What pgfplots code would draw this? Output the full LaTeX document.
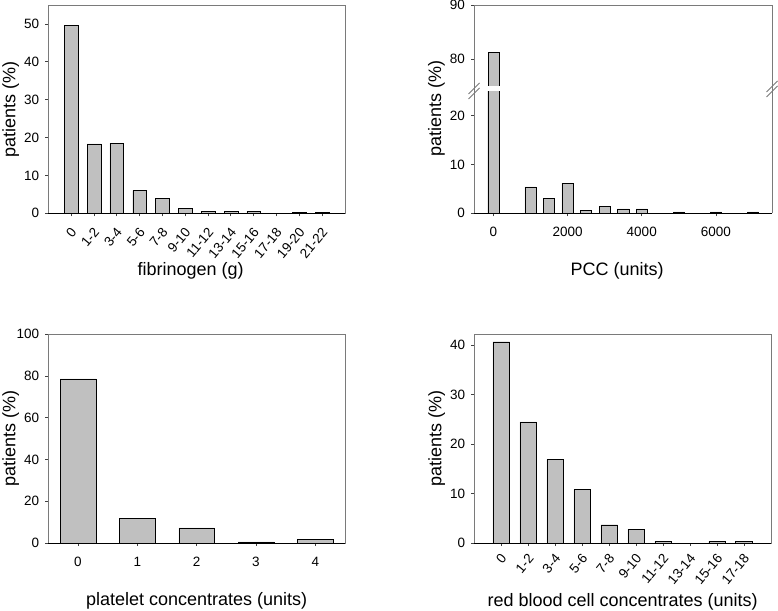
\documentclass[border=0pt]{standalone}
\usepackage{fontspec}
\setmainfont{Liberation Sans}
\usepackage{pgfplots}
\pgfplotsset{compat=1.18}
\definecolor{barfill}{HTML}{C0C0C0}
\definecolor{baredge}{HTML}{555555}
\definecolor{spine}{HTML}{7A7A7A}
\pgfplotsset{
  base/.style={
    scale only axis, anchor=south west,
    axis line style={draw=none},
    clip mode=individual,
    tick align=outside, major tick length=3pt,
    tick style={black!75, line width=0.8pt},
    xtick pos=left, ytick pos=left,
    ybar, bar width=0.6,
    ticklabel style={font=\fontsize{13.5}{15}\selectfont},
    label style={font=\fontsize{18}{20}\selectfont},
    /pgf/number format/assume math mode=true,
    /pgf/number format/1000 sep={},
    yticklabel style={anchor=east, inner sep=0pt, xshift=-6pt},
    xlabel style={anchor=base},
    ylabel style={anchor=center},
    cycle list={{fill=barfill, draw=baredge, line width=0.8pt}},
  },
  plainx/.style={xticklabel style={anchor=north, inner sep=0pt, yshift=-10.7pt}},
}
\begin{document}
\begin{tikzpicture}
\path[use as bounding box] (0,0) rectangle (778pt,610pt);
% fibrinogen
\begin{axis}[base, at={(48.3pt,396.7pt)}, width=296.7pt, height=208.3pt,
  xmin=-1, xmax=12, ymin=0, ymax=55, ytick={0,10,...,50},
  xtick={0,...,11},
  xticklabels={0,1-2,3-4,5-6,7-8,9-10,11-12,13-14,15-16,17-18,19-20,21-22},
  xticklabel style={xshift=2.6pt, yshift=-13.5pt, rotate=50, anchor=east, inner sep=0pt},
  xlabel={fibrinogen (g)}, ylabel={patients (\%)},
  xlabel style={at={(axis description cs:0.4798,-0.300)}},
  ylabel style={at={(axis description cs:-0.1264,0.5)}}]
\addplot coordinates {(0,49.7) (1,18.3) (2,18.5) (3,6.0) (4,4.0) (5,1.3) (6,0.5) (7,0.5) (8,0.5) (9,0) (10,0.3) (11,0.3)};
\draw[spine, line width=0.8pt] (rel axis cs:0,0) rectangle (rel axis cs:1,1);
\draw[black, line width=0.8pt] (rel axis cs:0,0) -- (rel axis cs:1,0);
\end{axis}
% PCC lower
\begin{axis}[base, plainx, at={(474pt,396.7pt)}, width=298pt, height=122pt,
  xmin=-520, xmax=7510, ymin=0, ymax=25, ytick={0,10,20},
  xtick={0,2000,4000,6000}, bar width=300,
  xlabel={PCC (units)}, ylabel={patients (\%)},
  xlabel style={at={(axis description cs:0.48,-0.5123)}},
  ylabel style={at={(axis description cs:-0.1258,0.859)}}]
\addplot coordinates {(0,81.2) (1000,5.4) (1500,3.0) (2000,6.2) (2500,0.6) (3000,1.4) (3500,0.9) (4000,0.9) (5000,0.3) (6000,0.3) (7000,0.3)};
\draw[spine, line width=0.8pt] (rel axis cs:0,1) -- (rel axis cs:0,0);
\draw[spine, line width=0.8pt] (rel axis cs:1,0) -- (rel axis cs:1,1);
\draw[black, line width=0.8pt] (rel axis cs:0,0) -- (rel axis cs:1,0);
\end{axis}
% PCC upper (broken axis)
\begin{axis}[base, at={(474pt,524pt)}, width=298pt, height=81pt,
  xmin=-520, xmax=7510, ymin=75, ymax=90, ytick={80,90},
  xtick=\empty, bar width=300]
\addplot coordinates {(0,81.2)};
\draw[spine, line width=0.8pt] (rel axis cs:0,0) -- (rel axis cs:0,1) -- (rel axis cs:1,1) -- (rel axis cs:1,0);
\end{axis}
\draw[spine, line width=0.8pt] (474pt,518.7pt) -- (474pt,524pt);
\draw[spine, line width=0.8pt] (772pt,518.7pt) -- (772pt,524pt);
\draw[spine, line width=0.8pt] (468.5pt,511pt) -- (479.5pt,522pt);
\draw[spine, line width=0.8pt] (468.5pt,516pt) -- (479.5pt,527pt);
\draw[spine, line width=0.8pt] (766.5pt,513pt) -- (777.5pt,524pt);
\draw[spine, line width=0.8pt] (766.5pt,518pt) -- (777.5pt,529pt);
% platelets
\begin{axis}[base, plainx, at={(48.3pt,67pt)}, width=296.7pt, height=208.7pt,
  xmin=-0.5, xmax=4.5, ymin=0, ymax=100, ytick={0,20,...,100},
  xtick={0,...,4},
  xlabel={platelet concentrates (units)}, ylabel={patients (\%)},
  xlabel style={at={(axis description cs:0.5,-0.2995)}},
  ylabel style={at={(axis description cs:-0.1264,0.5)}}]
\addplot coordinates {(0,78.6) (1,11.8) (2,7.2) (3,0.5) (4,1.8)};
\draw[spine, line width=0.8pt] (rel axis cs:0,0) rectangle (rel axis cs:1,1);
\draw[black, line width=0.8pt] (rel axis cs:0,0) -- (rel axis cs:1,0);
\end{axis}
% red blood cells
\begin{axis}[base, at={(474.3pt,67pt)}, width=296.7pt, height=208.7pt,
  xmin=-1, xmax=10, ymin=0, ymax=42.2, ytick={0,10,...,40},
  xtick={0,...,9}, bar width=0.62,
  xticklabels={0,1-2,3-4,5-6,7-8,9-10,11-12,13-14,15-16,17-18},
  xticklabel style={xshift=2.6pt, yshift=-10pt, rotate=50, anchor=east, inner sep=0pt},
  xlabel={red blood cell concentrates (units)}, ylabel={patients (\%)},
  xlabel style={at={(axis description cs:0.5,-0.302)}},
  ylabel style={at={(axis description cs:-0.1264,0.5)}}]
\addplot coordinates {(0,40.7) (1,24.5) (2,16.9) (3,10.8) (4,3.7) (5,2.8) (6,0.3) (7,0) (8,0.3) (9,0.3)};
\draw[spine, line width=0.8pt] (rel axis cs:0,0) rectangle (rel axis cs:1,1);
\draw[black, line width=0.8pt] (rel axis cs:0,0) -- (rel axis cs:1,0);
\end{axis}
\end{tikzpicture}
\end{document}
